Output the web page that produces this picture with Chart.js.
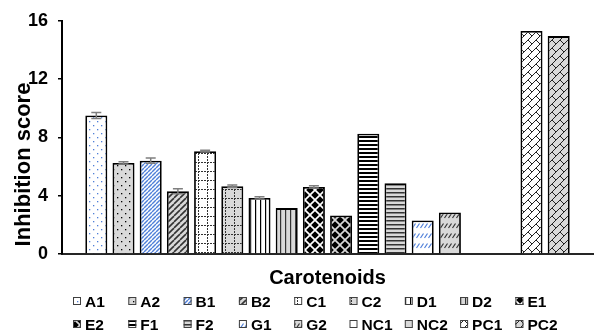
<!DOCTYPE html>
<html>
<head>
<meta charset="utf-8">
<title>Inhibition score by carotenoid</title>
<script src="https://cdn.jsdelivr.net/npm/chart.js@4.4.1/dist/chart.umd.min.js"></script>
<style>
  html, body { margin: 0; padding: 0; background: #fff; }
  #wrap { width: 594px; height: 334px; }
</style>
</head>
<body>
<div id="wrap"><canvas id="chart" width="594" height="334"></canvas></div>
<script>
// Samples and their mean inhibition scores (± error)
const groupLabel = 'Carotenoids';
const seriesNames = ['A1', 'A2', 'B1', 'B2', 'C1', 'C2', 'D1', 'D2', 'E1',
                     'E2', 'F1', 'F2', 'G1', 'G2', 'NC1', 'NC2', 'PC1', 'PC2'];
const scores = [9.5, 6.25, 6.4, 4.3, 7.05, 4.65, 3.85, 3.15, 4.6,
                2.65, 8.25, 4.85, 2.3, 2.85, 0, 0, 15.3, 14.95];
const errors = [0.2, 0.08, 0.18, 0.17, 0.06, 0.08, 0.08, 0, 0.08,
                0, 0, 0, 0, 0, 0, 0, 0, 0];
const yTicks = [0, 4, 8, 12, 16];

const FONT = '"Liberation Sans", Arial, sans-serif';
const WHITE = '#ffffff';
const GREY = '#d9d9d9';
const BLUE = '#4f7fd8';
const DARK = '#262626';

// ---- fill patterns -------------------------------------------------------
const scratch = document.createElement('canvas').getContext('2d');
function tile(w, h, bg, draw) {
  const c = document.createElement('canvas');
  c.width = w; c.height = h;
  const g = c.getContext('2d');
  g.fillStyle = bg;
  g.fillRect(0, 0, w, h);
  draw(g, w, h);
  return scratch.createPattern(c, 'repeat');
}
const dots = (color) => (g) => {
  g.fillStyle = color;
  g.fillRect(1, 1, 1.3, 1.3);
  g.fillRect(5, 5, 1.3, 1.3);
};
const diagonal = (color, lw) => (g, s) => {
  g.strokeStyle = color; g.lineWidth = lw;
  for (let k = -1; k <= 1; k++) {
    g.beginPath(); g.moveTo(k * s, s); g.lineTo(k * s + s, 0); g.stroke();
  }
};
const dottedGrid = (color) => (g, w, h) => {
  g.fillStyle = color;
  for (let x = 0; x < w; x += 3) g.fillRect(x, 0, 2, 1);
  for (let y = 0; y < h; y += 3) g.fillRect(0, y, 1, 2);
};
const vertical = (color, lw) => (g) => {
  g.fillStyle = color; g.fillRect(0, 0, lw, 1);
};
const horizontal = (color, lw) => (g, w) => {
  g.fillStyle = color; g.fillRect(0, 0, w, lw);
};
const diamonds = (color) => (g) => {
  g.fillStyle = color;
  const r = 3.8;
  [[0, 0], [10, 0], [0, 10], [10, 10], [5, 5]].forEach(([cx, cy]) => {
    g.beginPath();
    g.moveTo(cx, cy - r); g.lineTo(cx + r, cy); g.lineTo(cx, cy + r); g.lineTo(cx - r, cy);
    g.closePath(); g.fill();
  });
};
const dashes = (color) => (g) => {
  g.strokeStyle = color; g.lineWidth = 1.2;
  g.beginPath(); g.moveTo(0.5, 8); g.lineTo(3.5, 3.5); g.stroke();
};
const shingle = (color) => (g) => {
  g.strokeStyle = color; g.lineWidth = 1;
  for (let k = -1; k <= 1; k++) {
    g.beginPath(); g.moveTo(k * 8, 8); g.lineTo(k * 8 + 8, 0); g.stroke();
  }
  g.beginPath(); g.moveTo(0, 0); g.lineTo(4, 4); g.stroke();
};

const fills = [
  tile(8, 8, WHITE, dots(BLUE)),            // A1
  tile(8, 8, GREY, dots('#000')),           // A2
  tile(4, 4, WHITE, diagonal(BLUE, 1.4)),   // B1
  tile(6, 6, GREY, diagonal('#333', 1.6)),  // B2
  tile(9, 9, WHITE, dottedGrid('#333')),    // C1
  tile(9, 9, GREY, dottedGrid('#333')),     // C2
  tile(5, 1, WHITE, vertical('#000', 1.2)), // D1
  tile(5, 1, GREY, vertical('#333', 1.2)),  // D2
  tile(10, 10, WHITE, diamonds('#000')),    // E1
  tile(10, 10, GREY, diamonds('#000')),     // E2
  tile(4, 4, WHITE, horizontal('#000', 2)), // F1
  tile(4, 4, GREY, horizontal('#333', 1.5)),// F2
  tile(4, 10, WHITE, dashes(BLUE)),         // G1
  tile(4, 10, GREY, dashes('#333')),        // G2
  WHITE,                                    // NC1
  GREY,                                     // NC2
  tile(8, 8, WHITE, shingle('#222')),       // PC1
  tile(8, 8, GREY, shingle('#222'))         // PC2
];

// ---- plugins --------------------------------------------------------------
const errorBars = {
  id: 'errorBars',
  afterDatasetsDraw(chart) {
    const { ctx } = chart;
    const y = chart.scales.y;
    ctx.save();
    ctx.strokeStyle = '#7f7f7f';
    ctx.lineWidth = 1.5;
    chart.data.datasets.forEach((ds, i) => {
      const e = errors[i];
      if (!e) return;
      const bar = chart.getDatasetMeta(i).data[0];
      const v = ds.data[0];
      const top = y.getPixelForValue(v + e);
      const bot = y.getPixelForValue(v - e);
      ctx.beginPath();
      ctx.moveTo(bar.x, top); ctx.lineTo(bar.x, bot);
      ctx.moveTo(bar.x - 5, top); ctx.lineTo(bar.x + 5, top);
      ctx.moveTo(bar.x - 5, bot); ctx.lineTo(bar.x + 5, bot);
      ctx.stroke();
    });
    ctx.restore();
  }
};

const yTitle = {
  id: 'yTitle',
  afterDraw(chart) {
    const { ctx } = chart;
    ctx.save();
    ctx.translate(24, 164.5);
    ctx.rotate(-Math.PI / 2);
    ctx.font = 'bold 22px ' + FONT;
    ctx.fillStyle = '#000';
    ctx.textAlign = 'center';
    ctx.textBaseline = 'middle';
    ctx.fillText('Inhibition score', 0, 0);
    ctx.restore();
  }
};

const patternLegend = {
  id: 'patternLegend',
  afterDraw(chart) {
    const { ctx } = chart;
    ctx.save();
    ctx.font = 'bold 15.5px ' + FONT;
    ctx.textBaseline = 'alphabetic';
    chart.data.datasets.forEach((ds, i) => {
      const row = Math.floor(i / 9), col = i % 9;
      const x = 73 + col * 55.3;
      const base = 307 + row * 23;
      ctx.fillStyle = ds.backgroundColor;
      ctx.fillRect(x, base - 10, 8, 8);
      ctx.strokeStyle = '#404040';
      ctx.lineWidth = 1;
      ctx.strokeRect(x + 0.5, base - 9.5, 7, 7);
      ctx.fillStyle = '#000';
      ctx.fillText(ds.label, x + 12, base);
    });
    ctx.restore();
  }
};

// ---- chart ----------------------------------------------------------------
Chart.defaults.font.family = FONT;
Chart.defaults.color = '#000';

new Chart(document.getElementById('chart'), {
  type: 'bar',
  data: {
    labels: [groupLabel],
    datasets: seriesNames.map((name, i) => ({
      label: name,
      data: [scores[i]],
      backgroundColor: fills[i],
      borderColor: '#000',
      borderWidth: 1.8
    }))
  },
  options: {
    responsive: false,
    animation: false,
    events: [],
    layout: { padding: { top: 20, right: 1, bottom: 44, left: 0 } },
    datasets: { bar: { categoryPercentage: 0.922, barPercentage: 0.81 } },
    plugins: {
      legend: { display: false },
      tooltip: { enabled: false }
    },
    scales: {
      x: {
        ticks: { display: false },
        grid: { display: false, drawTicks: false },
        border: { display: true, color: DARK, width: 2 },
        title: {
          display: true,
          text: groupLabel,
          font: { size: 20, weight: 'bold' },
          padding: { top: 12, bottom: 0 }
        }
      },
      y: {
        min: 0,
        max: 16,
        afterBuildTicks(scale) { scale.ticks = yTicks.map(v => ({ value: v })); },
        afterFit(scale) { scale.width = 62; },
        ticks: { font: { size: 18, weight: 'bold' }, padding: 10 },
        grid: { drawOnChartArea: false, drawTicks: true, tickLength: 4, color: '#000', lineWidth: 1.5 },
        border: { display: true, color: '#000', width: 2 }
      }
    }
  },
  plugins: [errorBars, yTitle, patternLegend]
});
</script>
</body>
</html>
